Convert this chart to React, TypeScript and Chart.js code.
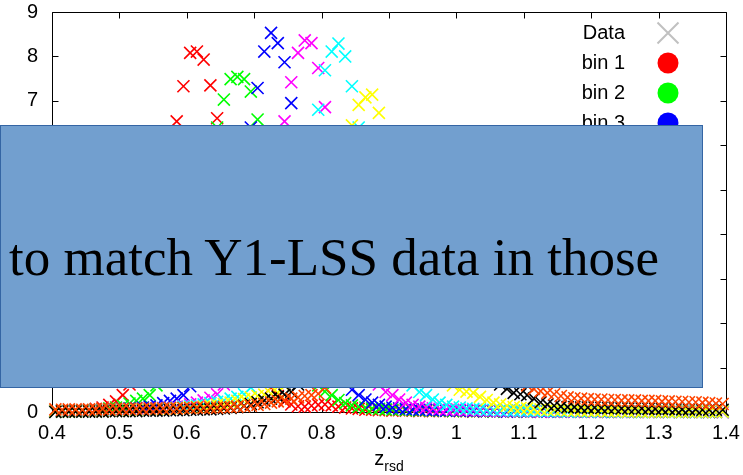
import React, { useEffect, useRef } from "react";
import { Chart, registerables } from "chart.js";

Chart.register(...registerables);

// z_rsd grid (bin centres)
const Z = [
  0.405, 0.415, 0.425, 0.435, 0.445, 0.455, 0.465, 0.475, 0.485, 0.495,
  0.505, 0.515, 0.525, 0.535, 0.545, 0.555, 0.565, 0.575, 0.585, 0.595,
  0.605, 0.615, 0.625, 0.635, 0.645, 0.655, 0.665, 0.675, 0.685, 0.695,
  0.705, 0.715, 0.725, 0.735, 0.745, 0.755, 0.765, 0.775, 0.785, 0.795,
  0.805, 0.815, 0.825, 0.835, 0.845, 0.855, 0.865, 0.875, 0.885, 0.895,
  0.905, 0.915, 0.925, 0.935, 0.945, 0.955, 0.965, 0.975, 0.985, 0.995,
  1.005, 1.015, 1.025, 1.035, 1.045, 1.055, 1.065, 1.075, 1.085, 1.095,
  1.105, 1.115, 1.125, 1.135, 1.145, 1.155, 1.165, 1.175, 1.185, 1.195,
  1.205, 1.215, 1.225, 1.235, 1.245, 1.255, 1.265, 1.275, 1.285, 1.295,
  1.305, 1.315, 1.325, 1.335, 1.345, 1.355, 1.365, 1.375, 1.385, 1.395,
];

const BIN1 = [
  0.02, 0.03, 0.02, 0.04, 0.03, 0.05, 0.07, 0.10, 0.16, 0.24,
  0.38, 0.62, 1.02, 1.60, 2.35, 3.30, 4.35, 5.50, 6.54, 7.33,
  8.08, 8.11, 7.93, 7.35, 6.61, 5.60, 4.60, 3.55, 2.65, 1.90,
  1.30, 0.85, 0.55, 0.36, 0.24, 0.17, 0.13, 0.12, 0.14, 0.16,
  0.17, 0.15, 0.12, 0.10, 0.08, 0.07, 0.05, 0.05, 0.04, 0.04,
  0.03, 0.04, 0.03, 0.03, 0.02, 0.03, 0.02, 0.02, 0.03, 0.02,
  0.02, 0.02, 0.01, 0.02, 0.02, 0.01, 0.02, 0.01, 0.01, 0.02,
  0.01, 0.01, 0.01, 0.02, 0.01, 0.01, 0.01, 0.01, 0.01, 0.01,
  0.01, 0.01, 0.00, 0.01, 0.01, 0.01, 0.00, 0.01, 0.01, 0.00,
  0.01, 0.00, 0.01, 0.01, 0.00, 0.01, 0.00, 0.00, 0.01, 0.00,
];
const BIN2 = [
  0.02, 0.02, 0.03, 0.03, 0.04, 0.04, 0.05, 0.06, 0.08, 0.10,
  0.14, 0.19, 0.25, 0.30, 0.38, 0.60, 0.95, 1.45, 2.10, 2.90,
  3.80, 4.70, 5.55, 6.00, 6.40, 7.03, 7.49, 7.54, 7.49, 7.21,
  6.58, 5.90, 5.10, 4.20, 3.30, 2.50, 1.80, 1.25, 0.85, 0.60,
  0.46, 0.38, 0.27, 0.20, 0.15, 0.12, 0.10, 0.08, 0.07, 0.06,
  0.05, 0.05, 0.04, 0.04, 0.03, 0.04, 0.03, 0.03, 0.03, 0.02,
  0.03, 0.02, 0.02, 0.02, 0.02, 0.01, 0.02, 0.02, 0.01, 0.02,
  0.01, 0.02, 0.01, 0.01, 0.01, 0.02, 0.01, 0.01, 0.01, 0.01,
  0.01, 0.01, 0.01, 0.00, 0.01, 0.01, 0.01, 0.00, 0.01, 0.01,
  0.00, 0.01, 0.01, 0.00, 0.01, 0.00, 0.01, 0.00, 0.00, 0.01,
];
const BIN3 = [
  0.01, 0.02, 0.02, 0.03, 0.02, 0.03, 0.04, 0.04, 0.05, 0.06,
  0.07, 0.08, 0.09, 0.10, 0.12, 0.15, 0.20, 0.25, 0.30, 0.38,
  0.58, 0.90, 1.40, 2.10, 2.95, 3.90, 4.90, 5.80, 6.20, 6.40,
  7.29, 8.11, 8.53, 8.30, 7.87, 6.95, 6.10, 5.10, 4.05, 3.05,
  2.20, 1.50, 1.00, 0.68, 0.50, 0.38, 0.28, 0.21, 0.16, 0.12,
  0.10, 0.08, 0.07, 0.06, 0.05, 0.05, 0.04, 0.04, 0.03, 0.04,
  0.03, 0.03, 0.02, 0.03, 0.02, 0.02, 0.02, 0.01, 0.02, 0.02,
  0.01, 0.02, 0.01, 0.01, 0.01, 0.01, 0.02, 0.01, 0.01, 0.01,
  0.01, 0.00, 0.01, 0.01, 0.01, 0.00, 0.01, 0.01, 0.00, 0.01,
  0.01, 0.00, 0.01, 0.00, 0.01, 0.00, 0.01, 0.00, 0.01, 0.00,
];
const BIN4 = [
  0.01, 0.01, 0.02, 0.02, 0.03, 0.02, 0.03, 0.03, 0.04, 0.04,
  0.05, 0.05, 0.06, 0.06, 0.07, 0.08, 0.09, 0.10, 0.12, 0.14,
  0.17, 0.21, 0.26, 0.32, 0.40, 0.62, 0.95, 1.45, 2.10, 2.90,
  3.80, 4.75, 5.60, 6.10, 6.54, 7.42, 8.08, 8.36, 8.30, 7.74,
  6.86, 5.95, 4.95, 3.95, 3.00, 2.15, 1.45, 0.95, 0.62, 0.45,
  0.38, 0.28, 0.21, 0.16, 0.12, 0.10, 0.08, 0.07, 0.06, 0.05,
  0.05, 0.04, 0.04, 0.03, 0.03, 0.03, 0.02, 0.03, 0.02, 0.02,
  0.02, 0.02, 0.01, 0.02, 0.01, 0.02, 0.01, 0.01, 0.01, 0.01,
  0.01, 0.01, 0.01, 0.01, 0.00, 0.01, 0.01, 0.01, 0.00, 0.01,
  0.01, 0.00, 0.01, 0.01, 0.00, 0.01, 0.00, 0.01, 0.00, 0.00,
];
const BIN5 = [
  0.01, 0.01, 0.01, 0.02, 0.02, 0.02, 0.03, 0.03, 0.03, 0.04,
  0.04, 0.05, 0.05, 0.06, 0.06, 0.07, 0.08, 0.09, 0.10, 0.12,
  0.13, 0.15, 0.17, 0.20, 0.23, 0.26, 0.30, 0.34, 0.40, 0.55,
  0.85, 1.30, 1.95, 2.75, 3.65, 4.55, 5.30, 5.90, 6.30, 6.80,
  7.69, 8.11, 8.29, 8.00, 7.33, 6.40, 5.50, 4.55, 3.60, 2.70,
  1.95, 1.35, 0.90, 0.60, 0.45, 0.38, 0.28, 0.21, 0.16, 0.12,
  0.10, 0.08, 0.07, 0.06, 0.05, 0.05, 0.04, 0.04, 0.03, 0.03,
  0.03, 0.02, 0.03, 0.02, 0.02, 0.02, 0.01, 0.02, 0.01, 0.01,
  0.02, 0.01, 0.01, 0.01, 0.01, 0.01, 0.01, 0.00, 0.01, 0.01,
  0.01, 0.00, 0.01, 0.01, 0.00, 0.01, 0.00, 0.01, 0.00, 0.01,
];
const BIN6 = [
  0.01, 0.01, 0.01, 0.01, 0.02, 0.02, 0.02, 0.02, 0.03, 0.03,
  0.03, 0.04, 0.04, 0.05, 0.05, 0.06, 0.06, 0.07, 0.08, 0.09,
  0.10, 0.11, 0.12, 0.14, 0.16, 0.18, 0.21, 0.25, 0.29, 0.33,
  0.36, 0.39, 0.41, 0.43, 0.60, 0.90, 1.30, 1.85, 2.50, 3.20,
  3.95, 4.65, 5.30, 5.90, 6.45, 6.91, 7.08, 7.14, 6.73, 6.20,
  5.55, 4.80, 4.05, 3.30, 2.60, 1.95, 1.45, 1.05, 0.78, 0.60,
  0.50, 0.46, 0.43, 0.34, 0.27, 0.21, 0.17, 0.14, 0.11, 0.09,
  0.08, 0.07, 0.06, 0.05, 0.05, 0.04, 0.04, 0.03, 0.03, 0.03,
  0.02, 0.03, 0.02, 0.02, 0.02, 0.01, 0.02, 0.01, 0.01, 0.01,
  0.01, 0.01, 0.01, 0.00, 0.01, 0.01, 0.00, 0.01, 0.00, 0.01,
];
const BIN7 = [
  0.00, 0.01, 0.01, 0.01, 0.01, 0.01, 0.01, 0.01, 0.02, 0.02,
  0.02, 0.02, 0.02, 0.03, 0.03, 0.03, 0.03, 0.04, 0.04, 0.04,
  0.05, 0.05, 0.06, 0.06, 0.07, 0.08, 0.09, 0.11, 0.14, 0.18,
  0.22, 0.26, 0.30, 0.34, 0.39, 0.45, 0.62, 0.85, 1.15, 1.50,
  1.90, 2.35, 2.80, 3.25, 3.70, 4.10, 4.50, 4.85, 5.15, 5.40,
  5.60, 5.75, 5.85, 5.80, 5.65, 5.40, 5.05, 4.60, 4.05, 3.45,
  2.85, 2.25, 1.70, 1.25, 0.95, 0.75, 0.62, 0.52, 0.43, 0.40,
  0.38, 0.30, 0.22, 0.17, 0.14, 0.12, 0.11, 0.11, 0.10, 0.10,
  0.10, 0.09, 0.09, 0.09, 0.08, 0.08, 0.08, 0.08, 0.07, 0.07,
  0.07, 0.07, 0.06, 0.06, 0.06, 0.06, 0.05, 0.05, 0.05, 0.05,
];
const BIN8 = [
  0.06, 0.05, 0.06, 0.06, 0.05, 0.06, 0.06, 0.07, 0.06, 0.07,
  0.07, 0.07, 0.08, 0.07, 0.08, 0.08, 0.08, 0.09, 0.08, 0.09,
  0.09, 0.10, 0.09, 0.10, 0.10, 0.11, 0.11, 0.12, 0.13, 0.14,
  0.16, 0.18, 0.21, 0.24, 0.27, 0.30, 0.33, 0.36, 0.38, 0.41,
  0.55, 0.75, 1.00, 1.30, 1.65, 2.05, 2.45, 2.85, 3.25, 3.60,
  3.95, 4.25, 4.50, 4.70, 4.85, 4.90, 4.85, 4.70, 4.45, 4.10,
  3.70, 3.25, 2.80, 2.35, 1.95, 1.60, 1.30, 1.05, 0.85, 0.70,
  0.60, 0.52, 0.47, 0.43, 0.40, 0.36, 0.33, 0.31, 0.30, 0.29,
  0.28, 0.28, 0.27, 0.27, 0.26, 0.26, 0.26, 0.25, 0.25, 0.25,
  0.24, 0.24, 0.23, 0.23, 0.22, 0.22, 0.21, 0.20, 0.19, 0.18,
];

const BIN_VALUES = [BIN1, BIN2, BIN3, BIN4, BIN5, BIN6, BIN7, BIN8];
const BIN_LABELS = ["bin 1", "bin 2", "bin 3", "bin 4", "bin 5", "bin 6", "bin 7", "bin 8"];
const BIN_COLORS = ["#ff0000", "#00ff00", "#0000ff", "#ff00ff", "#00ffff", "#ffff00", "#000000", "#ff4500"];
const DATA_LABEL = "Data";
const DATA_COLOR = "#c0c0c0";

const X_MIN = 0.4;
const X_MAX = 1.4;
const Y_MIN = 0;
const Y_MAX = 9;
const X_TITLE_MAIN = "z";
const X_TITLE_SUB = "rsd";
const OVERLAY_TEXT = "to match Y1-LSS data in those";

const FONT = "'Liberation Sans', Arial, Helvetica, sans-serif";

const framePlugin = {
  id: "gnuFrame",
  beforeDatasetsDraw(chart: any) {
    const { ctx, chartArea: a, scales } = chart;
    ctx.save();
    ctx.strokeStyle = "#000";
    ctx.lineWidth = 1;
    const L = Math.round(a.left) + 0.5;
    const R = Math.round(a.right) + 0.5;
    const T = Math.round(a.top) + 0.5;
    const B = Math.round(a.bottom) + 0.5;
    ctx.beginPath();
    ctx.rect(L, T, R - L, B - T);
    const tl = 6;
    scales.x.ticks.forEach((t: any) => {
      const p = Math.round(scales.x.getPixelForValue(t.value)) + 0.5;
      ctx.moveTo(p, B);
      ctx.lineTo(p, B - tl);
      ctx.moveTo(p, T);
      ctx.lineTo(p, T + tl);
    });
    scales.y.ticks.forEach((t: any) => {
      const p = Math.round(scales.y.getPixelForValue(t.value)) + 0.5;
      ctx.moveTo(L, p);
      ctx.lineTo(L + tl, p);
      ctx.moveTo(R, p);
      ctx.lineTo(R - tl, p);
    });
    ctx.stroke();
    ctx.restore();
  },
  afterDatasetsDraw(chart: any) {
    const { ctx, chartArea: a } = chart;
    ctx.save();
    // legend
    const textRight = 625;
    const markX = 668;
    const row0 = 33;
    const rowH = 30;
    ctx.font = `20px ${FONT}`;
    ctx.textAlign = "right";
    ctx.textBaseline = "middle";
    ctx.fillStyle = "#000";
    ctx.fillText(DATA_LABEL, textRight, row0);
    ctx.strokeStyle = DATA_COLOR;
    ctx.lineWidth = 2;
    ctx.beginPath();
    ctx.moveTo(markX - 10.5, row0 - 10.5);
    ctx.lineTo(markX + 10.5, row0 + 10.5);
    ctx.moveTo(markX - 10.5, row0 + 10.5);
    ctx.lineTo(markX + 10.5, row0 - 10.5);
    ctx.stroke();
    BIN_LABELS.forEach((lab, i) => {
      const y = row0 + rowH * (i + 1);
      ctx.fillStyle = "#000";
      ctx.fillText(lab, textRight, y);
      ctx.fillStyle = BIN_COLORS[i];
      ctx.beginPath();
      ctx.arc(markX, y, 10.5, 0, Math.PI * 2);
      ctx.fill();
    });
    // x title with subscript
    const cx = (a.left + a.right) / 2;
    ctx.textAlign = "left";
    ctx.textBaseline = "alphabetic";
    ctx.fillStyle = "#000";
    ctx.font = `20px ${FONT}`;
    const wMain = ctx.measureText(X_TITLE_MAIN).width;
    ctx.font = `14px ${FONT}`;
    const wSub = ctx.measureText(X_TITLE_SUB).width;
    const x0 = cx - (wMain + wSub) / 2;
    ctx.font = `20px ${FONT}`;
    ctx.fillText(X_TITLE_MAIN, x0, 465);
    ctx.font = `14px ${FONT}`;
    ctx.fillText(X_TITLE_SUB, x0 + wMain, 471);
    ctx.restore();
  },
};

export default function App() {
  const ref = useRef<HTMLCanvasElement | null>(null);

  useEffect(() => {
    if (!ref.current) return;
    const datasets: any[] = BIN_VALUES.map((vals, i) => ({
      label: BIN_LABELS[i],
      data: Z.map((z, k) => ({ x: z, y: vals[k] })),
      pointStyle: "crossRot",
      pointRadius: 8.5,
      pointBorderWidth: 1.6,
      borderColor: BIN_COLORS[i],
      backgroundColor: BIN_COLORS[i],
      showLine: false,
      clip: false,
      order: BIN_VALUES.length - i,
    }));
    datasets.push({
      label: DATA_LABEL,
      data: [],
      pointStyle: "crossRot",
      borderColor: DATA_COLOR,
      backgroundColor: DATA_COLOR,
      order: 0,
    });

    const chart = new Chart(ref.current, {
      type: "scatter",
      data: { datasets },
      options: {
        animation: false,
        responsive: false,
        events: [],
        layout: { padding: { top: 12, right: 17, left: 0, bottom: 0 } },
        plugins: { legend: { display: false }, tooltip: { enabled: false }, title: { display: false } },
        scales: {
          x: {
            type: "linear",
            min: X_MIN,
            max: X_MAX,
            grid: { display: false, drawTicks: false },
            border: { display: false },
            ticks: {
              stepSize: 0.1,
              autoSkip: false,
              maxRotation: 0,
              padding: 9,
              color: "#000",
              font: { family: FONT, size: 20 },
              callback: (v: any) => String(Math.round(Number(v) * 10) / 10),
            },
            afterFit: (s: any) => {
              s.height = 63;
              s.paddingLeft = 0;
              s.paddingRight = 0;
              s.paddingTop = 0;
              s.paddingBottom = 0;
            },
          },
          y: {
            type: "linear",
            min: Y_MIN,
            max: Y_MAX,
            grid: { display: false, drawTicks: false },
            border: { display: false },
            ticks: {
              stepSize: 1,
              padding: 14,
              color: "#000",
              font: { family: FONT, size: 20 },
            },
            afterFit: (s: any) => {
              s.width = 52;
              s.paddingLeft = 0;
              s.paddingRight = 0;
              s.paddingTop = 0;
              s.paddingBottom = 0;
            },
          },
        },
      } as any,
      plugins: [framePlugin],
    });
    return () => chart.destroy();
  }, []);

  return (
    <div style={{ position: "absolute", left: 0, top: 0, width: 743, height: 475, overflow: "hidden", background: "#fff" }}>
      <canvas ref={ref} width={743} height={475} style={{ display: "block" }} />
      <div
        style={{
          position: "absolute",
          left: 0,
          top: 125,
          width: 703,
          height: 263,
          background: "#729fcf",
          border: "1px solid #3465a4",
          boxSizing: "border-box",
          display: "flex",
          alignItems: "center",
          overflow: "visible",
        }}
      >
        <span
          style={{
            fontFamily: "'Liberation Serif', 'Times New Roman', serif",
            fontSize: 53,
            color: "#000",
            whiteSpace: "nowrap",
            marginLeft: 8,
            display: "inline-block",
          }}
        >
          {OVERLAY_TEXT}
        </span>
      </div>
    </div>
  );
}
